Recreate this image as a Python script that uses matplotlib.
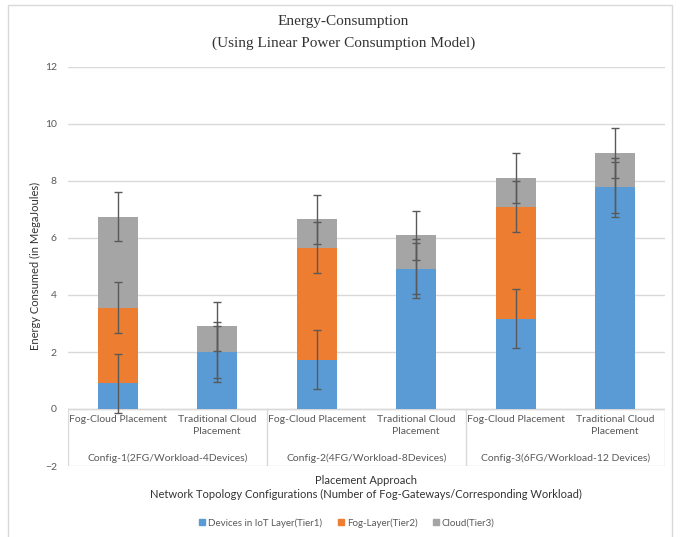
import numpy as np
import matplotlib
matplotlib.use("Agg")
import matplotlib.pyplot as plt
from matplotlib.patches import Rectangle, Patch

# data
placements = ["Fog-Cloud Placement", "Traditional Cloud\nPlacement"] * 3
configs = ["Config-1(2FG/Workload-4Devices)",
           "Config-2(4FG/Workload-8Devices)",
           "Config-3(6FG/Workload-12 Devices)"]
tier1 = [0.90, 2.00, 1.73, 4.92, 3.17, 7.78]
tier2 = [2.65, 0.00, 3.93, 0.00, 3.93, 0.00]
tier3 = [3.20, 0.90, 0.99, 1.17, 1.00, 1.20]
err1 = [1.04] * 6
err2 = [0.90] * 6
err3 = [0.87] * 6
series_names = ["Devices in IoT Layer(Tier1)", "Fog-Layer(Tier2)", "Cloud(Tier3)"]
colors = ["#5B9BD5", "#ED7D31", "#A5A5A5"]
yticks = [-2, 0, 2, 4, 6, 8, 10, 12]

plt.rcParams["font.family"] = ["Lato", "DejaVu Sans"]
txt = "#595959"

fig = plt.figure(figsize=(6.8, 5.37), dpi=100)
ax = fig.add_axes([68 / 680, 1 - 466 / 537, (665 - 68) / 680, (466 - 67) / 537])

x = np.arange(len(tier1))
t1 = np.array(tier1)
t2 = np.array(tier2)
t3 = np.array(tier3)

for y in yticks[1:]:
    ax.axhline(y, color="#D9D9D9", lw=1, zorder=0)

ax.bar(x, t1, 0.4, color=colors[0], zorder=2)
ax.bar(x, t2, 0.4, bottom=t1, color=colors[1], zorder=2)
ax.bar(x, t3, 0.4, bottom=t1 + t2, color=colors[2], zorder=2)

tops = [t1, t1 + t2, t1 + t2 + t3]
for top, err in zip(tops, [err1, err2, err3]):
    ax.errorbar(x, top, yerr=err, fmt="none", ecolor="#595959", elinewidth=1,
                capsize=3, capthick=1, zorder=3)

# category table below zero
ax.plot([-0.5, 5.5], [0, 0], color="#D9D9D9", lw=1, zorder=1)
ax.plot([-0.5, 5.5], [-2, -2], color="#D9D9D9", lw=1, zorder=1)
for xv in [-0.5, 1.5, 3.5, 5.5]:
    ax.plot([xv, xv], [0, -2], color="#D9D9D9", lw=1, zorder=1)
for i, lab in enumerate(placements):
    ax.text(x[i], -0.22, lab, ha="center", va="top", fontsize=7.5, color=txt,
            linespacing=1.35)
for g, lab in enumerate(configs):
    ax.text(2 * g + 0.5, -1.72, lab, ha="center", va="center", fontsize=7.5, color=txt)

ax.set_xlim(-0.5, 5.5)
ax.set_ylim(-2, 12)
ax.set_yticks(yticks)
ax.set_xticks([])
ax.tick_params(axis="y", length=0, labelsize=7.5, labelcolor=txt, pad=8)
for s in ax.spines.values():
    s.set_visible(False)

fig.text(0.505, 1 - 22 / 537, "Energy-Consumption", ha="center", va="center",
         fontsize=11, family="Liberation Serif", color="#333333")
fig.text(0.505, 1 - 43 / 537, "(Using Linear Power Consumption Model)", ha="center",
         va="center", fontsize=11, family="Liberation Serif", color="#333333")
fig.text(35 / 680, 1 - 266 / 537, "Energy Consumed (in MegaJoules)", rotation=90,
         ha="center", va="center", fontsize=8, color="#333333")
fig.text(366 / 680, 1 - 480 / 537, "Placement Approach", ha="center", va="center",
         fontsize=8, color="#333333")
fig.text(366 / 680, 1 - 494 / 537,
         "Network Topology Configurations (Number of Fog-Gateways/Corresponding Workload)",
         ha="center", va="center", fontsize=8, color="#333333")

handles = [Patch(color=c) for c in colors]
fig.legend(handles, series_names, loc="center", bbox_to_anchor=(347 / 680, 1 - 523 / 537),
           ncol=3, frameon=False, fontsize=7, handlelength=0.6, handleheight=0.6,
           handletextpad=0.3, columnspacing=1.6, labelcolor=txt)

fig.patches.append(Rectangle((8 / 680, -0.02), 664 / 680, 1.02 - 5 / 537,
                             transform=fig.transFigure, fill=False,
                             edgecolor="#D9D9D9", lw=1))

fig.savefig("out.png", dpi=100)
